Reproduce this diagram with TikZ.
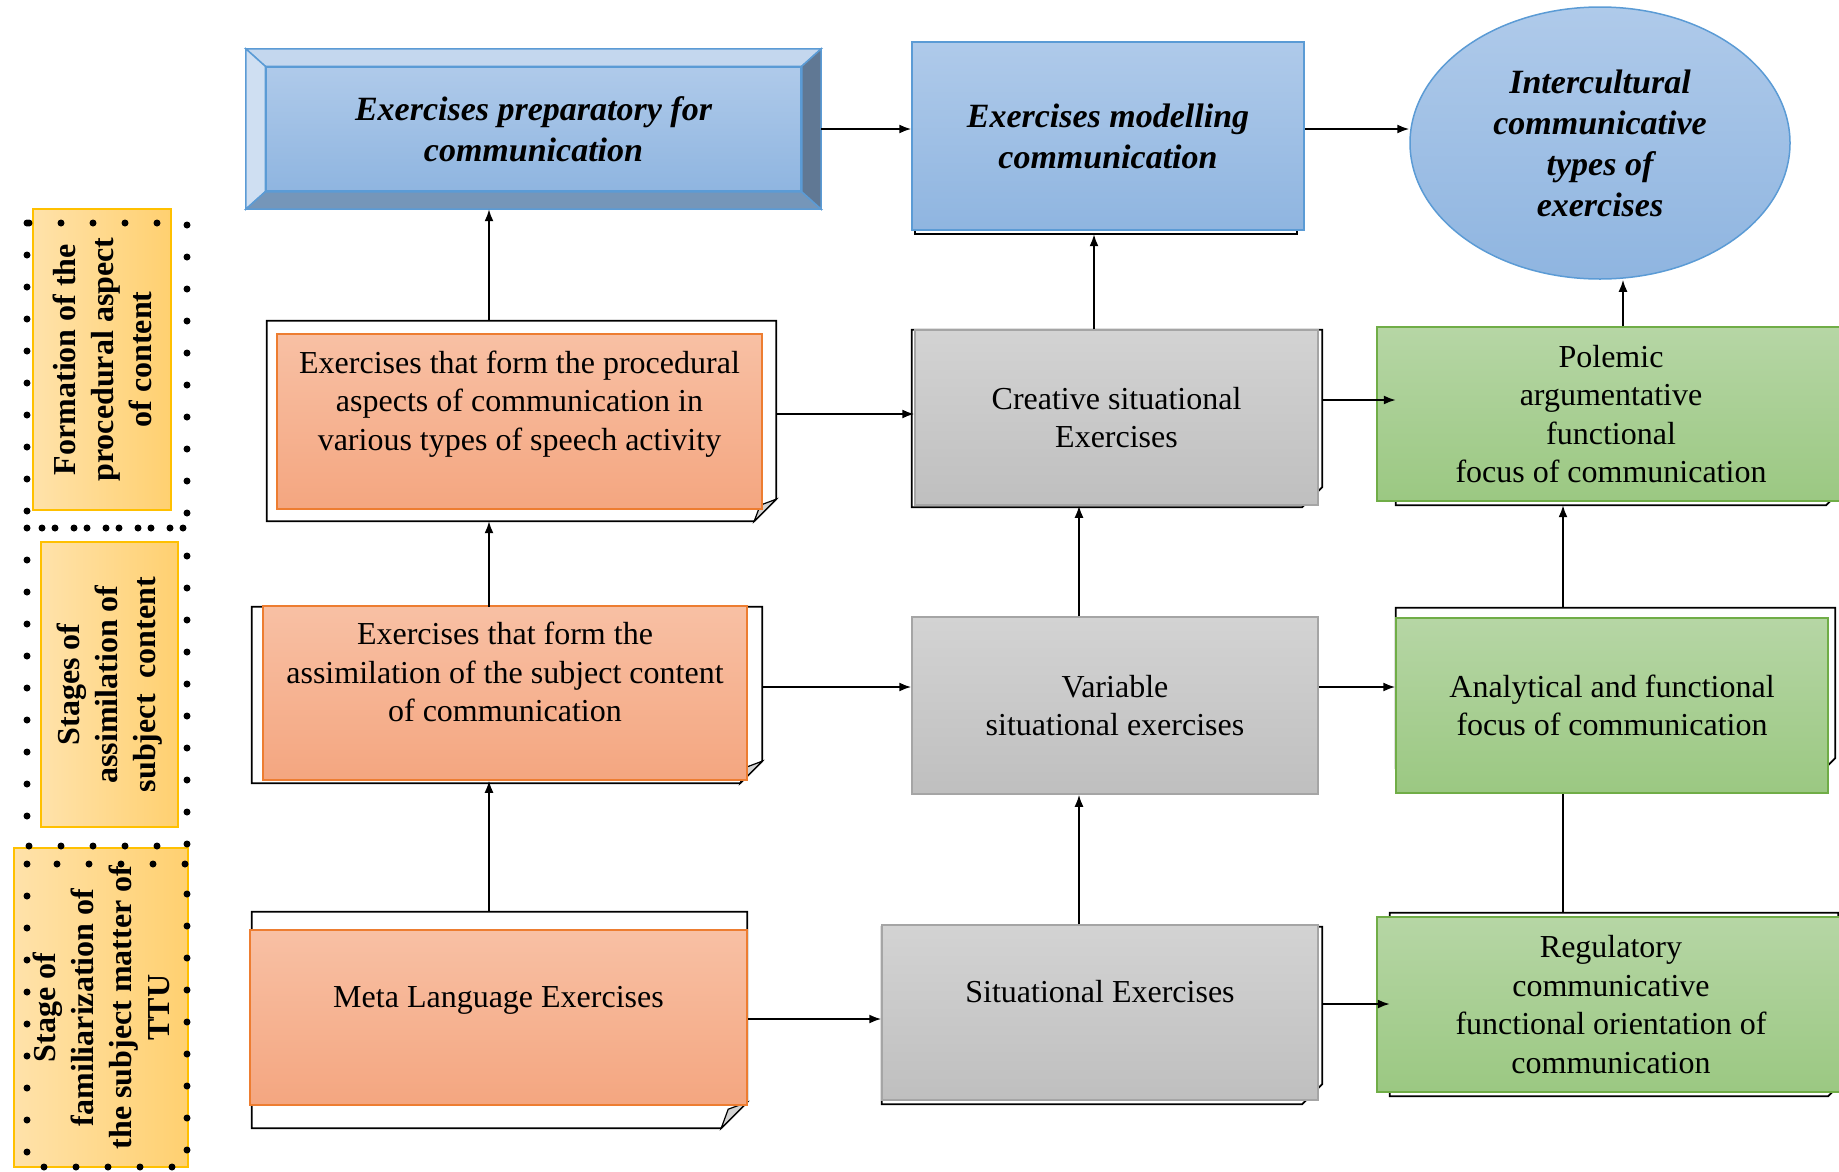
\documentclass[tikz,border=0pt]{standalone}
\usepackage{fontspec}
\setmainfont{Liberation Serif}
\usetikzlibrary{arrows.meta,shapes.geometric}

\definecolor{orangeTop}{RGB}{248,192,164}
\definecolor{orangeBot}{RGB}{244,166,128}
\definecolor{orangeLine}{RGB}{237,125,49}
\definecolor{grayTop}{RGB}{211,211,211}
\definecolor{grayBot}{RGB}{191,191,191}
\definecolor{grayLine}{RGB}{165,165,165}
\definecolor{greenTop}{RGB}{182,214,165}
\definecolor{greenBot}{RGB}{155,200,130}
\definecolor{greenLine}{RGB}{112,173,71}
\definecolor{blueTop}{RGB}{175,202,234}
\definecolor{blueBot}{RGB}{143,181,224}
\definecolor{blueLine}{RGB}{91,155,213}
\definecolor{bevTop}{RGB}{196,215,238}
\definecolor{bevLeft}{RGB}{207,223,242}
\definecolor{bevBot}{RGB}{117,150,185}
\definecolor{bevRight}{RGB}{96,120,148}
\definecolor{stageLight}{RGB}{255,226,170}
\definecolor{stageDark}{RGB}{255,208,112}
\definecolor{stageLine}{RGB}{255,192,0}
\definecolor{foldGray}{RGB}{210,210,210}

\tikzset{
  txt/.style={font=\fontsize{32}{38.5}\selectfont, align=center},
  btxt/.style={font=\fontsize{34}{41}\selectfont\bfseries\itshape, align=center},
  placeholder/.style={draw=none},
  backline/.style={draw=black, fill=white, line width=1.8pt},
  fold/.style={draw=black, fill=foldGray, line width=1.2pt},
  orangebox/.style={txt, draw=orangeLine, line width=1.5pt, top color=orangeTop, bottom color=orangeBot},
  graybox/.style={txt, draw=grayLine, line width=1.5pt, top color=grayTop, bottom color=grayBot},
  greenbox/.style={txt, draw=greenLine, line width=1.5pt, top color=greenTop, bottom color=greenBot},
  bluebox/.style={btxt, draw=blueLine, line width=1.5pt, top color=blueTop, bottom color=blueBot},
  bevel/.style={draw=blueLine, line width=1.5pt},
  stage/.style={rotate=90, draw=stageLine, line width=1.5pt, left color=stageLight, right color=stageDark,
    font=\fontsize{32}{38}\selectfont\bfseries, align=center},
  arrow/.style={line width=1.8pt, -{Latex[length=12pt,width=9pt]}},
  link/.style={line width=1.8pt},
  dotframe/.style={line width=7pt, line cap=round, dash pattern=on 0pt off 32pt}
}

\begin{document}
\begin{tikzpicture}[x=1pt,y=1pt]
\tikzstyle{every node}+=[inner sep=0pt]
\useasboundingbox (0,0) rectangle (1839,-1171);
\clip (0,0) rectangle (1839,-1171);

% top row
\node[placeholder, minimum width=575, minimum height=160] (prepFrame) at (533.5,-129) {};
\node[bluebox, minimum width=535, minimum height=124] (prep) at (533.5,-129) {Exercises preparatory for\\communication};
\filldraw[bevel, fill=bevTop] (prepFrame.north west) -- (prepFrame.north east) -- (prep.north east) -- (prep.north west) -- cycle;
\filldraw[bevel, fill=bevLeft] (prepFrame.north west) -- (prep.north west) -- (prep.south west) -- (prepFrame.south west) -- cycle;
\filldraw[bevel, fill=bevBot] (prepFrame.south west) -- (prep.south west) -- (prep.south east) -- (prepFrame.south east) -- cycle;
\filldraw[bevel, fill=bevRight] (prepFrame.north east) -- (prepFrame.south east) -- (prep.south east) -- (prep.north east) -- cycle;

\node[placeholder, minimum width=382, minimum height=184] (modelBack) at (1106,-142) {};
\draw[backline] (modelBack.north west) rectangle (modelBack.south east);
\node[bluebox, minimum width=392, minimum height=188] (model) at (1108,-136) {Exercises modelling\\communication};

\node[bluebox, ellipse, minimum width=380, minimum height=272] (ell) at (1600,-143) {Intercultural\\communicative\\types of\\exercises};

% second row
\node[placeholder, minimum width=509, minimum height=200] (procBack) at (521.5,-421) {};
\draw[backline] (procBack.north west) -- (procBack.north east) -- ([yshift=22pt]procBack.south east) -- ([xshift=-22pt]procBack.south east) -- (procBack.south west) -- cycle;
\draw[fold] ([yshift=22pt]procBack.south east) -- ([xshift=-22pt]procBack.south east) -- ([shift={(-16,16)}]procBack.south east) -- cycle;
\node[orangebox, minimum width=485, minimum height=175] (proc) at (519.5,-421.5) {Exercises that form the procedural\\aspects of communication in\\various types of speech activity\\[-8pt]\strut};

\node[placeholder, minimum width=410, minimum height=177] (creatBack) at (1117,-418.5) {};
\draw[backline] (creatBack.north west) -- (creatBack.north east) -- ([yshift=20pt]creatBack.south east) -- ([xshift=-20pt]creatBack.south east) -- (creatBack.south west) -- cycle;
\node[graybox, minimum width=403, minimum height=175] (creat) at (1116.5,-417.5) {Creative situational\\Exercises};

\node[placeholder, minimum width=440, minimum height=170] (polBack) at (1616,-420) {};
\draw[backline] (polBack.north west) -- (polBack.north east) -- ([yshift=10pt]polBack.south east) -- ([xshift=-10pt]polBack.south east) -- (polBack.south west) -- cycle;
\node[greenbox, minimum width=468, minimum height=174] (pol) at (1611,-414) {Polemic\\argumentative\\functional\\focus of communication};

% third row
\node[placeholder, minimum width=510, minimum height=176] (assimBack) at (507,-695) {};
\draw[backline] (assimBack.north west) -- (assimBack.north east) -- ([yshift=22pt]assimBack.south east) -- ([xshift=-22pt]assimBack.south east) -- (assimBack.south west) -- cycle;
\draw[fold] ([yshift=22pt]assimBack.south east) -- ([xshift=-22pt]assimBack.south east) -- ([shift={(-16,16)}]assimBack.south east) -- cycle;
\node[orangebox, minimum width=484, minimum height=174] (assim) at (505,-693) {Exercises that form the\\assimilation of the subject content\\of communication\\[-8pt]\strut};

\node[graybox, minimum width=406, minimum height=177] (var) at (1115,-705.5) {Variable\\situational exercises};

\node[placeholder, minimum width=439, minimum height=160] (anBack) at (1615.5,-688) {};
\draw[backline] (anBack.north west) -- (anBack.north east) -- ([yshift=10pt]anBack.south east) -- ([xshift=-10pt]anBack.south east) -- (anBack.south west) -- cycle;
\node[greenbox, minimum width=432, minimum height=175] (an) at (1612,-705.5) {Analytical and functional\\focus of communication};

% fourth row
\node[placeholder, minimum width=495, minimum height=216] (metaBack) at (499.5,-1020) {};
\draw[backline] (metaBack.north west) -- (metaBack.north east) -- ([yshift=26pt]metaBack.south east) -- ([xshift=-26pt]metaBack.south east) -- (metaBack.south west) -- cycle;
\draw[fold] ([yshift=26pt]metaBack.south east) -- ([xshift=-26pt]metaBack.south east) -- ([shift={(-19,19)}]metaBack.south east) -- cycle;
\node[orangebox, minimum width=497, minimum height=175] (meta) at (498.5,-1017.5) {Meta Language Exercises\\[-8pt]\strut};

\node[placeholder, minimum width=440, minimum height=177] (situBack) at (1102,-1015.5) {};
\draw[backline] (situBack.north west) -- (situBack.north east) -- ([yshift=20pt]situBack.south east) -- ([xshift=-20pt]situBack.south east) -- (situBack.south west) -- cycle;
\node[graybox, minimum width=436, minimum height=175] (situ) at (1100,-1012.5) {Situational Exercises\\[-8pt]\strut};

\node[placeholder, minimum width=448, minimum height=183] (regBack) at (1614,-1004.5) {};
\draw[backline] (regBack.north west) -- (regBack.north east) -- ([yshift=10pt]regBack.south east) -- ([xshift=-10pt]regBack.south east) -- (regBack.south west) -- cycle;
\node[greenbox, minimum width=468, minimum height=175] (reg) at (1611,-1004.5) {Regulatory\\communicative\\functional orientation of\\communication};

% stages on the left
\node[stage, minimum width=301, minimum height=138] (stageProc) at (102,-359.5) {Formation of the\\procedural aspect\\of content};
\node[stage, minimum width=285, minimum height=137] (stageAssim) at (109.5,-684.5) {Stages of\\assimilation of\\subject~ content};
\node[stage, minimum width=319, minimum height=174] (stageFam) at (101,-1007.5) {Stage of\\familiarization of\\the subject matter of\\TTU};
\draw[dotframe] (27,-223) rectangle (187,-528);
\draw[dotframe] (27,-528) rectangle (187,-846);
\draw[dotframe] (27,-864) rectangle (187,-1167);

% connectors
\coordinate (colLeft) at (489,0);
\coordinate (colModel) at (1094,0);
\coordinate (colMid) at (1079,0);
\coordinate (colRight) at (1563,0);
\coordinate (colEll) at (1623,0);
\coordinate (rowProc) at (0,-414);
\coordinate (rowCreat) at (0,-400);
\coordinate (rowAssim) at (0,-687);
\coordinate (rowMeta) at (0,-1019);
\coordinate (rowSitu) at (0,-1004);

\draw[arrow] (prepFrame.east) -- (prepFrame.east -| model.west);
\draw[arrow] (prepFrame.east -| model.east) -- (prepFrame.east -| ell.west);
\draw[arrow] (procBack.north -| colLeft) -- (prepFrame.south -| colLeft);
\draw[arrow] (assimBack.north -| colLeft) -- (procBack.south -| colLeft);
\draw[arrow] (metaBack.north -| colLeft) -- (assim.south -| colLeft);
\draw[arrow] (procBack.east |- rowProc) -- (creat.west |- rowProc);
\draw[arrow] (assimBack.east |- rowAssim) -- (var.west |- rowAssim);
\draw[arrow] (meta.east |- rowMeta) -- (situ.west |- rowMeta);
\draw[arrow] (creat.north -| colModel) -- (modelBack.south -| colModel);
\draw[arrow] (var.north -| colMid) -- (creat.south -| colMid);
\draw[arrow] (situ.north -| colMid) -- (var.south -| colMid);
\draw[arrow] (creatBack.east |- rowCreat) -- (polBack.west |- rowCreat);
\draw[arrow] (var.east |- rowAssim) -- (an.west |- rowAssim);
\draw[arrow] (situBack.east |- rowSitu) -- (regBack.west |- rowSitu);
\draw[arrow] (pol.north -| colEll) -- (ell.south -| colEll);
\draw[arrow] (anBack.north -| colRight) -- (polBack.south -| colRight);
\draw[link] (regBack.north -| colRight) -- (an.south -| colRight);
\end{tikzpicture}
\end{document}
